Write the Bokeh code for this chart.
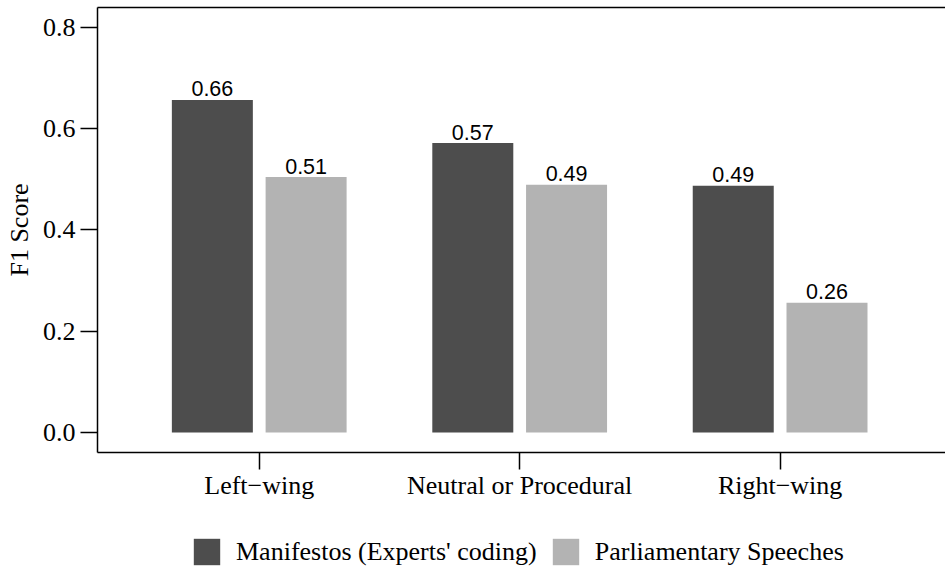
import numpy as np
from bokeh.plotting import figure
from bokeh.layouts import column
from bokeh.models import (ColumnDataSource, Range1d, FixedTicker, LinearAxis,
                          Legend, LegendItem)
from bokeh.core.properties import value
from bokeh.embed import file_html
from bokeh.resources import INLINE

# ---- data ----
categories = ["Left\u2212wing", "Neutral or Procedural", "Right\u2212wing"]
manifestos = [0.656, 0.571, 0.487]
speeches = [0.504, 0.489, 0.256]
manifesto_labels = ["0.66", "0.57", "0.49"]
speech_labels = ["0.51", "0.49", "0.26"]
series_names = ["Manifestos (Experts' coding)", "Parliamentary Speeches"]
y_ticks = [0.0, 0.2, 0.4, 0.6, 0.8]
y_tick_labels = ["0.0", "0.2", "0.4", "0.6", "0.8"]

DARK = "#4D4D4D"
LIGHT = "#B3B3B3"
SERIF = "Liberation Serif"
SANS = "Liberation Sans"

idx = np.arange(len(categories))
offset = 0.18
bar_w = 0.311

src_m = ColumnDataSource(dict(x=idx - offset, top=manifestos, label=manifesto_labels))
src_s = ColumnDataSource(dict(x=idx + offset, top=speeches, label=speech_labels))

p = figure(width=945, height=505, output_backend="svg", toolbar_location=None,
           x_range=Range1d(-0.621, 2.635), y_range=Range1d(-0.0395, 0.8385),
           min_border_left=97, min_border_right=0, min_border_top=7,
           min_border_bottom=53)
p.outline_line_color = None
p.xgrid.visible = False
p.ygrid.visible = False
p.background_fill_color = "white"
p.border_fill_color = "white"

p.vbar(x="x", top="top", bottom=0, width=bar_w, source=src_m,
       fill_color=DARK, line_color=None)
p.vbar(x="x", top="top", bottom=0, width=bar_w, source=src_s,
       fill_color=LIGHT, line_color=None)

for src in (src_m, src_s):
    p.text(x="x", y="top", text="label", source=src, text_align="center",
           text_baseline="middle", y_offset=-11,
           text_font=value(SANS), text_font_size="21.5px", text_color="black")

# y axis
ya = p.yaxis[0]
ya.ticker = FixedTicker(ticks=y_ticks)
ya.major_label_overrides = {t: l for t, l in zip(y_ticks, y_tick_labels)}
ya.axis_label = "F1 Score"
ya.axis_label_text_font = SERIF
ya.axis_label_text_font_size = "26px"
ya.axis_label_text_font_style = "normal"
ya.axis_label_text_color = "black"
ya.axis_label_standoff = 6
ya.major_label_text_font = SERIF
ya.major_label_text_font_size = "26px"
ya.major_label_text_color = "black"
ya.major_label_standoff = 5
ya.major_tick_out = 17
ya.major_tick_in = 0
ya.minor_tick_out = 0
ya.minor_tick_in = 0
ya.axis_line_width = 1.5
ya.major_tick_line_width = 1.5
ya.axis_line_color = "black"
ya.major_tick_line_color = "black"

# x axis
xa = p.xaxis[0]
xa.ticker = FixedTicker(ticks=list(idx))
xa.major_label_overrides = {int(i): c for i, c in zip(idx, categories)}
xa.major_label_text_font = SERIF
xa.major_label_text_font_size = "26px"
xa.major_label_text_color = "black"
xa.major_label_standoff = 1
xa.major_tick_out = 17
xa.major_tick_in = 0
xa.minor_tick_out = 0
xa.minor_tick_in = 0
xa.axis_line_width = 1.5
xa.major_tick_line_width = 1.5
xa.axis_line_color = "black"
xa.major_tick_line_color = "black"

# top border line
top_ax = LinearAxis(ticker=FixedTicker(ticks=[]), major_tick_out=0, major_tick_in=0,
                    minor_tick_out=0, minor_tick_in=0, major_label_standoff=0,
                    axis_line_width=1.5, axis_line_color="black",
                    major_label_text_font_size="0px")
p.add_layout(top_ax, "above")

# ---- legend strip (hidden copies of the series supply the swatches) ----
pl = figure(width=945, height=63, output_backend="svg", toolbar_location=None,
            x_range=Range1d(-0.621, 2.635), y_range=Range1d(0, 1),
            x_axis_type=None, y_axis_type=None,
            min_border_left=0, min_border_right=0, min_border_top=0,
            min_border_bottom=0)
pl.outline_line_color = None
pl.background_fill_color = "white"
pl.border_fill_color = "white"
items = []
for name, col, src in zip(series_names, [DARK, LIGHT], [src_m, src_s]):
    r = pl.vbar(x="x", top="top", bottom=0, width=bar_w, source=src,
                fill_color=col, line_color=None, visible=False)
    items.append(LegendItem(label=name, renderers=[r]))

legend = Legend(items=items, orientation="horizontal", location=(93, 0),
                glyph_width=33, glyph_height=33, label_standoff=13, spacing=12,
                padding=0, margin=0, border_line_color=None,
                background_fill_alpha=0, inactive_fill_alpha=0,
                label_text_font=SERIF, label_text_font_size="26px",
                label_text_color="black")
pl.add_layout(legend, "center")

layout = column(p, pl, spacing=0)
open("out.html", "w").write(file_html(layout, INLINE))
